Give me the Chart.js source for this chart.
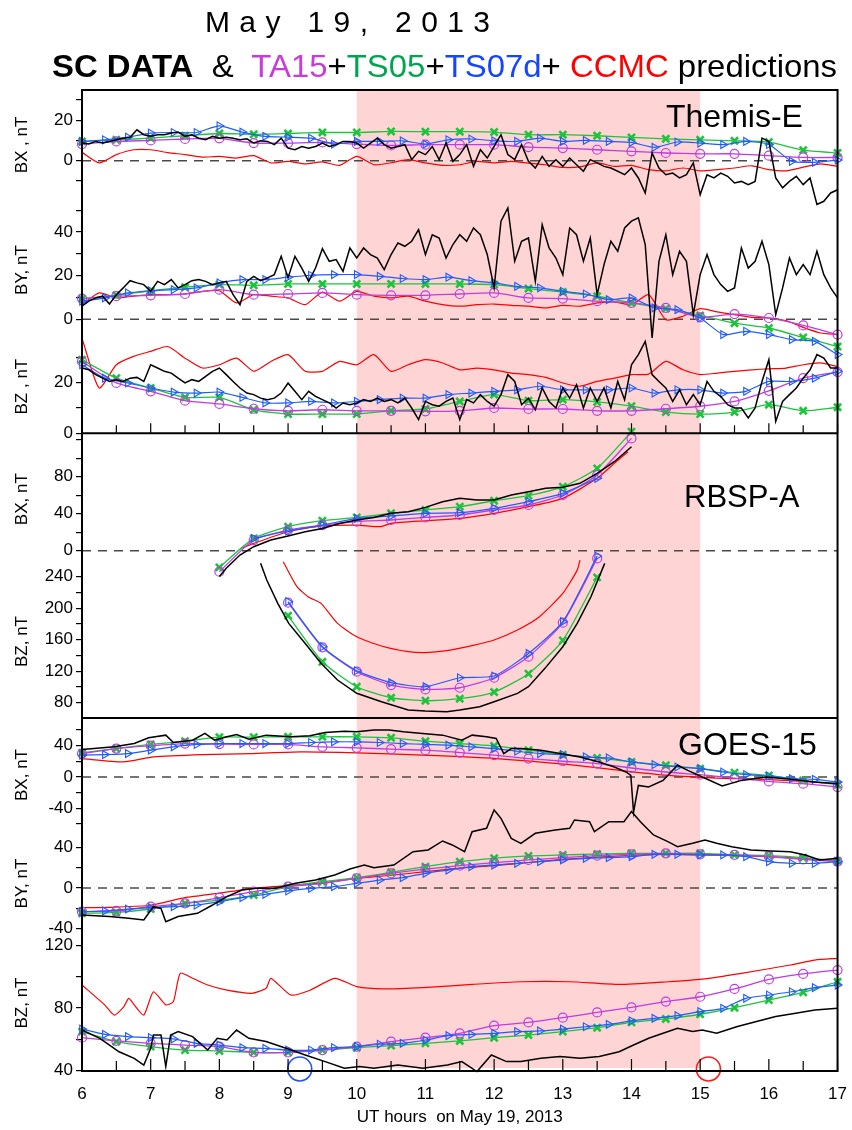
<!DOCTYPE html>
<html>
<head>
<meta charset="utf-8">
<title>May 19, 2013 - SC data and model predictions</title>
<script src="https://cdn.jsdelivr.net/npm/chart.js@4.4.1/dist/chart.umd.min.js"></script>
<style>
  body { margin: 0; background: #fff; }
  #wrap { position: relative; width: 852px; height: 1130px; font-family: "Liberation Sans", Arial, sans-serif; color: #000; }
  #wrap canvas { position: absolute; left: 0; top: 0; }
  .t { position: absolute; white-space: nowrap; line-height: 1; transform-origin: 0 0; }
  #date { left: 205px; top: 7px; font-size: 30px; }
  #head { left: 52px; top: 50px; font-size: 32px; }
  .panel { font-size: 32px; }
</style>
</head>
<body>
<div id="wrap">
  <canvas id="chart" width="852" height="1130"></canvas>
  <div class="t" id="date">May 19, 2013</div>
  <div class="t" id="head"><b>SC DATA</b>&nbsp; &amp;&nbsp; <span style="color:#c83cd8">TA15</span>+<span style="color:#00a550">TS05</span>+<span style="color:#1545ff">TS07d</span>+ <span style="color:#ff0000">CCMC</span> predictions</div>
  <div class="t panel" style="left:666px; top:100px;">Themis-E</div>
  <div class="t panel" style="left:684px; top:481px; font-size:31px;">RBSP-A</div>
  <div class="t panel" style="left:678px; top:728px;">GOES-15</div>
</div>
<script>
// ---- time grids (UT hours) ----
const hourTicks = [6, 7, 8, 9, 10, 11, 12, 13, 14, 15, 16, 17];
const halfHours = [6, 6.5, 7, 7.5, 8, 8.5, 9, 9.5, 10, 10.5, 11, 11.5, 12, 12.5, 13, 13.5, 14, 14.5, 15, 15.5, 16, 16.5, 17];
const thirdHours = [6, 6.333, 6.667, 7, 7.333, 7.667, 8, 8.333, 8.667, 9, 9.333, 9.667, 10, 10.333, 10.667, 11, 11.333, 11.667,
  12, 12.333, 12.667, 13, 13.333, 13.667, 14, 14.333, 14.667, 15, 15.333, 15.667, 16, 16.333, 16.667, 17];
const stormSpan = [10, 15];
const xRange = [6, 17];

// sampling grid for the high resolution records
function grid(start, step, count) {
  const out = [];
  for (let i = 0; i < count; i++) out.push(+(start + i * step).toFixed(3));
  return out;
}
const tenthHours = grid(6, 0.1, 111);
const quarterHours = grid(6, 0.25, 45);

// ---- Themis-E ----
const thBxData = [8.7, 8.2, 9.5, 8.7, 9.5, 10.3, 11.1, 11.5, 15.2, 12.8,
  12.0, 12.8, 12.8, 13.6, 14.1, 12.0, 12.8, 11.1, 10.3, 12.0,
  11.1, 11.5, 11.1, 10.3, 10.8, 8.7, 9.8, 9.5, 7.9, 11.1,
  6.2, 5.4, 7.0, 6.2, 7.0, 8.7, 7.0, 7.9, 9.5, 9.5,
  8.7, 6.2, 8.7, 11.1, 7.9, 6.2, 7.0, 7.9, 0.5, 4.6,
  3.0, 7.0, 0.5, 8.7, -0.3, 3.0, 7.9, -2.8, 5.4, 1.3,
  7.0, 12.8, 3.0, 0.5, 7.9, -0.3, -3.6, 2.1, -2.8, 0.5,
  -2.8, 1.3, -2.0, -5.2, 0.5, -1.1, -2.8, -3.6, -5.2, -6.9,
  -3.6, -8.5, -15.9, 3.8, -3.6, -6.9, -6.1, -8.5, -6.9, -1.1,
  -16.7, -6.9, -8.5, -6.1, -7.7, -11.0, -10.2, -11.8, -10.2, 11.1,
  9.5, -8.5, -13.4, -10.2, -7.7, -11.8, -8.5, -21.6, -20.0, -15.9,
  -14.3];
const thByData = [6.0, 8.3, 9.8, 10.6, 7.0, 11.3, 14.4, 17.7, 16.7, 15.9,
  12.8, 17.4, 15.9, 18.2, 14.4, 15.9, 17.7, 18.2, 17.4, 15.9,
  16.7, 17.4, 11.3, 6.7, 17.4, 19.7, 17.7, 19.0, 20.5, 28.9,
  19.0, 28.9, 23.5, 17.4, 23.5, 32.4, 26.6, 27.4, 22.0, 32.7,
  28.1, 32.7, 29.7, 28.1, 22.8, 29.7, 35.0, 33.5, 35.8, 41.1,
  29.7, 38.8, 37.3, 28.1, 34.3, 38.8, 35.8, 41.9, 38.8, 29.7,
  14.4, 45.0, 51.1, 26.6, 35.8, 37.3, 17.4, 43.4, 32.7, 28.1,
  20.5, 41.9, 38.8, 26.6, 37.3, 11.3, 25.1, 35.8, 31.2, 41.9,
  45.0, 46.5, 34.3, -8.6, 26.6, 38.8, 20.5, 31.2, 26.6, 2.1,
  20.5, 29.7, 20.5, 15.9, 12.8, 14.4, 32.7, 23.5, 26.6, 35.8,
  25.1, 2.1, 14.4, 28.1, 20.5, 25.1, 20.5, 31.2, 20.5, 14.4,
  9.8];
const thBzData = [25.8, 25.1, 23.2, 21.8, 20.5, 21.2, 20.5, 21.8, 22.1, 20.5,
  27.1, 25.8, 24.5, 23.8, 21.8, 19.9, 21.2, 20.5, 22.5, 24.5,
  25.8, 23.2, 20.5, 17.9, 15.9, 15.3, 13.9, 13.3, 13.9, 15.9,
  19.9, 16.6, 13.3, 16.6, 14.6, 13.3, 12.0, 10.0, 12.0, 11.3,
  12.0, 13.3, 12.6, 13.9, 12.6, 13.3, 12.0, 13.9, 10.0, 5.4,
  12.6, 11.3, 10.7, 12.6, 13.9, 5.4, 13.3, 12.0, 15.3, 12.6,
  10.7, 15.3, 23.2, 20.5, 11.3, 13.9, 9.3, 17.9, 12.6, 10.0,
  17.9, 13.9, 19.2, 10.0, 17.9, 12.6, 17.9, 10.0, 20.5, 13.3,
  27.1, 31.1, 36.3, 23.2, 20.5, 17.9, 12.6, 17.2, 11.3, 15.3,
  11.3, 20.5, 16.6, 14.5, 11.3, 10.0, 10.0, 6.1, 10.0, 20.5,
  29.1, 4.7, 12.6, 15.3, 17.9, 21.8, 25.1, 31.1, 29.7, 25.8,
  25.8];

const thBxCcmc = [4.1, -1.1, 3.0, 5.4, 5.4, 4.0, 3.0, 1.8, 2.1, 1.3, 2.5, -1.1, -0.3, -1.6, -0.6, -2.3,
  2.1, -2.0, -1.0, 0.5, -1.1, -2.3, -2.0, -0.3, -1.1, -0.3, -1.2, -2.0, -3.3, -3.0, -1.1, -2.8,
  -2.3, -4.4, -5.0, -3.6, -5.0, -4.4, -3.6, -2.5, -4.4, -5.0, -3.2, -1.6, -2.8];
const thByCcmc = [6.7, 12.1, 9.8, 10.6, 11.3, 11.3, 11.6, 12.8, 13.1, 7.5, 11.3, 10.6, 9.8, 6.7, 12.5, 8.3,
  12.8, 10.6, 9.8, 10.6, 8.3, 6.7, 6.0, 6.7, 7.0, 6.4, 6.0, 5.2, 6.4, 6.0, 7.5, 8.0,
  6.7, 11.3, -0.2, 1.4, 4.9, 3.4, 2.1, 0.9, 0.6, -0.6, -3.7, -6.3, -7.0];
const thBzCcmc = [37.6, 17.9, 27.1, 30.4, 32.4, 34.3, 29.7, 25.8, 27.1, 29.7, 24.5, 28.4, 31.1, 24.5, 24.5, 28.4,
  27.1, 31.1, 24.5, 27.1, 29.1, 27.8, 25.1, 25.8, 25.1, 23.8, 23.2, 22.1, 19.9, 18.6, 20.5, 21.8,
  23.2, 23.4, 28.4, 25.1, 23.2, 23.8, 24.5, 25.1, 25.5, 25.8, 27.1, 27.8, 26.4];

const thBxTa15 = [8.2, 9.5, 10.0, 10.7, 11.0, 8.7, 8.7, 9.0, 8.2, 7.5, 7.9, 7.9, 7.9, 6.7, 6.2, 5.4, 4.6, 3.8, 3.4, 3.4, 2.5, 1.6, 1.6];
const thBxTs05 = [9.5, 10.3, 11.1, 12.3, 13.4, 13.0, 13.4, 13.9, 13.9, 14.4, 14.3, 14.3, 14.1, 12.8, 12.8, 12.3, 11.5, 10.8, 10.3, 9.8, 9.2, 5.2, 3.8];
const thBxTs07 = [9.5, 10.3, 11.6, 13.6, 13.9, 13.9, 17.2, 14.1, 12.0, 11.6, 11.1, 8.2, 9.5, 9.5, 9.8, 8.2, 10.3,
  10.7, 9.8, 9.5, 11.1, 9.5, 10.0, 9.5, 9.0, 6.6, 9.2, 8.7, 7.9, 9.5, 8.0, -0.3, -0.8, 0.3];
const thByTa15 = [9.5, 10.6, 11.0, 11.6, 13.6, 11.3, 11.6, 12.1, 11.3, 11.0, 11.0, 11.6, 12.1, 9.8, 9.5, 8.3, 7.5, 5.2, 0.9, 2.4, 0.6, -2.8, -7.0];
const thByTs05 = [9.5, 11.0, 13.1, 14.7, 15.9, 15.6, 16.2, 16.2, 16.2, 16.2, 16.2, 16.2, 15.9, 14.1, 12.5, 10.6, 7.5, 4.9, 1.8, -1.8, -4.0, -8.3, -12.5];
const thByTs07 = [8.3, 9.8, 12.1, 13.1, 13.6, 14.4, 16.7, 18.2, 18.2, 19.3, 20.2, 20.5, 20.5, 19.7, 18.7, 18.2, 19.3,
  17.7, 16.7, 15.1, 14.4, 12.8, 11.6, 9.0, 9.8, 5.2, 4.4, 0.6, -7.0, -5.5, -7.0, -9.3, -10.1, -16.2];
const thBzTa15 = [28.4, 19.9, 16.6, 12.9, 11.6, 9.7, 8.9, 9.3, 8.9, 8.9, 8.7, 8.9, 10.0, 9.6, 9.6, 8.9, 8.9, 9.7, 10.7, 12.6, 16.8, 21.8, 24.2];
const thBzTs05 = [29.1, 21.8, 17.9, 14.2, 14.2, 9.3, 7.6, 7.6, 7.6, 8.9, 9.6, 12.6, 15.3, 12.9, 13.3, 12.4, 10.7, 8.4, 7.6, 8.4, 11.3, 8.9, 10.3];
const thBzTs07 = [27.1, 21.8, 19.9, 17.9, 16.3, 15.9, 16.3, 14.2, 12.0, 12.0, 12.6, 12.0, 12.6, 13.3, 13.9, 13.9, 15.3,
  15.9, 16.6, 17.2, 18.6, 17.2, 17.2, 17.2, 17.9, 15.9, 17.2, 17.2, 15.9, 16.6, 20.5, 20.5, 21.8, 24.5];

// ---- RBSP-A ----
const rbBxHours = [8, 8.5, 9, 9.5, 10, 10.5, 11, 11.5, 12, 12.5, 13, 13.5, 14];
const rbBx07Hours = [8.5, 9, 9.5, 10, 10.5, 11, 11.5, 12, 12.5, 13, 13.5];
const rbBzHours = [9, 9.5, 10, 10.5, 11, 11.5, 12, 12.5, 13, 13.5];
const rbBxData = [[8.0, -28], [8.1, -19], [8.3, -4.7], [8.5, 4.3], [8.75, 11.5], [9, 15.9], [9.25, 20.5], [9.5, 24.1],
  [9.75, 29.5], [10, 33.2], [10.25, 36], [10.5, 40.4], [10.75, 42.2], [11, 46.8], [11.25, 53], [11.5, 56.6],
  [11.75, 54.8], [12, 54.8], [12.25, 60.2], [12.5, 63.8], [12.75, 67.4], [13, 68.5], [13.25, 72.8], [13.5, 83.6],
  [13.75, 96.2], [14, 112.4]];
const rbBxCcmc = [[8.3, 2], [8.5, 7.9], [9, 20.5], [9.5, 26.7], [10, 27.7], [10.35, 26], [10.5, 29.5], [11, 32.4],
  [11.5, 35], [12, 40.4], [12.5, 47.6], [13, 56.6], [13.5, 78.2], [13.75, 94.4], [13.95, 107]];
const rbBxTa15 = [-22.7, 11.5, 22.3, 27.7, 31.4, 33.2, 36.0, 38.6, 44.0, 49.4, 60.2, 81.8, 121.4];
const rbBxTs05 = [-18, 13.3, 25.9, 32.4, 36.0, 40.4, 44.0, 47.6, 54.0, 59.5, 69.2, 89.0, 128.6];
const rbBxTs07 = [13.3, 21.3, 27.7, 35.0, 37.5, 40.4, 41.1, 45.8, 53.0, 62.0, 78.2];
const rbBzData = [[8.6, 257], [8.69, 235.8], [8.85, 206.1], [9.01, 180.7], [9.25, 155.3], [9.48, 130], [9.72, 108.8],
  [10, 91.9], [10.36, 81.3], [10.75, 70.7], [11, 69.4], [11.31, 68.6], [11.5, 70.7], [11.79, 74.9], [12, 81.3],
  [12.34, 91.9], [12.5, 100.3], [12.74, 123.6], [13, 151.1], [13.21, 180.7], [13.41, 214.6], [13.61, 257]];
const rbBzCcmc = [[8.93, 259], [9.13, 227.4], [9.29, 214.7], [9.48, 206.2], [9.72, 180.8], [10, 163.8], [10.36, 152],
  [10.75, 144.8], [11, 143.6], [11.31, 146.1], [11.71, 153.2], [12, 159.6], [12.34, 172.3], [12.66, 189.2],
  [13, 218.8], [13.21, 248.4], [13.25, 261.1]];
const rbBzTa15 = [207, 150.3, 119.4, 102.4, 96.9, 99, 111.7, 138.4, 181.6, 263.3];
const rbBzTs05 = [190.5, 132, 100.3, 86.3, 82.5, 85.1, 93.5, 116.8, 159.2, 239.2];
const rbBzTs07 = [208.3, 151.1, 120.6, 105.4, 100.3, 111.7, 113.9, 142.6, 182.9, 266.2];

// ---- GOES-15 ----
const goBxData = [[6, 35], [6.47, 38.5], [6.76, 42.7], [6.97, 50], [7.22, 53.4], [7.33, 44], [7.61, 47], [7.79, 55.6],
  [7.93, 47], [8.11, 51.3], [8.25, 54.3], [8.43, 48.3], [8.68, 53.4], [9.04, 51.3], [9.32, 52.6], [9.54, 56.8],
  [9.82, 58.5], [10, 57.7], [10.25, 59.8], [10.47, 59.8], [10.68, 57.7], [10.96, 55.6], [11.25, 53.4], [11.53, 47],
  [11.68, 53.4], [11.89, 51.3], [12.03, 49.1], [12.14, 29.9], [12.25, 36.3], [12.39, 36.3], [12.68, 34.2],
  [12.96, 29.9], [13.25, 25.6], [13.53, 19.2], [13.75, 12.8], [13.92, 6.4], [13.99, 2.1], [14.03, -44.9],
  [14.1, -10.7], [14.25, -12.8], [14.46, -4.3], [14.67, 15], [14.82, 8.5], [15.03, 0], [15.32, -11.5],
  [15.6, -4.3], [15.96, 0], [16.31, -3], [16.67, -6.4], [17, -8.5]];
const goByData = [[6, -26.5], [6.4, -28], [6.68, -29.7], [6.9, -31.4], [7.04, -18.3], [7.15, -20], [7.22, -33],
  [7.4, -28], [7.68, -24.8], [7.9, -16.7], [8.11, -8.5], [8.33, -2], [8.54, -0.3], [8.82, -0.3], [9.11, 4.6],
  [9.4, 7.8], [9.68, 12.7], [9.9, 18.6], [10.11, 22.5], [10.25, 19.9], [10.54, 22.5], [10.82, 35.6], [11.04, 37.3],
  [11.25, 46.1], [11.39, 42.2], [11.57, 35.6], [11.68, 55.2], [11.89, 58.5], [12, 76.5], [12.1, 68.3],
  [12.25, 48.7], [12.39, 43.8], [12.6, 53.6], [12.89, 56.9], [13.1, 58.5], [13.17, 66.7], [13.39, 65],
  [13.46, 55.2], [13.67, 65], [13.89, 65], [14, 75], [14.13, 65], [14.32, 52], [14.53, 45.4], [14.67, 40.5],
  [14.89, 43.8], [15.07, 47], [15.24, 43.8], [15.46, 40.5], [15.74, 37.3], [16.03, 36.3], [16.31, 35.6],
  [16.53, 32.4], [16.74, 27.5], [17, 29.1]];
const goBzData = [[6, 65.9], [6.26, 60.6], [6.54, 52], [6.76, 47.8], [6.9, 43.5], [7, 54.2], [7.04, 62.7], [7.15, 62.7],
  [7.22, 42.5], [7.29, 62.7], [7.4, 64.9], [7.61, 61.7], [7.83, 53.1], [7.97, 60.6], [8.11, 59.5], [8.25, 65.9],
  [8.43, 60.6], [8.68, 58.5], [8.97, 54.2], [9.25, 49.9], [9.54, 45.7], [9.82, 41.4], [10.04, 42.5], [10.25, 41.4],
  [10.6, 43.5], [10.96, 41.4], [11.32, 43.5], [11.53, 45.7], [11.75, 39.3], [11.96, 49.9], [12.18, 45.7],
  [12.39, 45.7], [12.68, 47.8], [12.96, 48.9], [13.25, 47.8], [13.53, 48.9], [13.82, 52], [14.03, 56.3],
  [14.25, 60.6], [14.46, 63.8], [14.67, 67], [14.89, 64.9], [15.03, 65.9], [15.24, 63.8], [15.53, 68],
  [15.82, 71.3], [16.1, 74.5], [16.39, 76.6], [16.67, 78.7], [17, 79.8]];

const goBxCcmc = [[6, 23.5], [6.6, 19.2], [7.04, 25.6], [7.75, 28.6], [8.47, 29.9], [9.18, 32], [10, 30.8], [10.96, 27.8],
  [12.03, 23.5], [13.1, 15.8], [13.82, 8.5], [14.53, 2.1], [15.24, -1.3], [15.96, -3], [17, -8.5]];
const goByCcmc = [-19.3, -18.7, -16.9, -9.5, -5.0, -0.3, 2.5, 5.0, 9.5, 12.5, 16.0, 19.5, 22.0, 25.0, 28.0, 30.2,
  32.0, 33.0, 32.5, 31.7, 30.7, 29.0, 26.5];
const goBzCcmc = [[6, 94.7], [6.33, 82], [6.47, 75.5], [6.61, 80.9], [6.68, 86.2], [6.76, 82], [6.9, 75.5], [7.04, 90.4],
  [7.22, 82], [7.33, 84], [7.43, 102.2], [7.61, 99], [7.83, 94.7], [8.11, 91.4], [8.47, 89.4], [8.68, 92.6],
  [8.75, 99], [9.04, 88.3], [9.32, 91.4], [9.68, 99], [10, 93.7], [10.39, 92.2], [10.96, 93], [11.68, 95.1],
  [12.39, 96.8], [13.1, 96.8], [13.82, 95.1], [14.53, 96.8], [15.03, 98.5], [15.6, 102.2], [16.31, 107.5],
  [16.67, 110.7], [17, 111.8]];

const goBxTa15 = [29.9, 36.3, 40.0, 42.7, 42.0, 41.5, 41.5, 38.5, 37.2, 35.5, 34.2, 31.2, 27.8, 23.5, 20.1, 17.1, 11.5, 6.4, 3.0, -1.3, -5.6, -8.5, -12.8];
const goBxTs05 = [30.8, 36.3, 41.5, 45.7, 50.9, 50.9, 51.3, 51.3, 51.3, 50.0, 45.7, 42.7, 39.7, 34.2, 28.6, 24.4, 19.2, 15.0, 10.7, 5.6, 2.1, -4.3, -9.8];
const goBxTs07 = [27.8, 28.6, 29.9, 34.2, 38.5, 41.5, 42.7, 42.7, 42.7, 42.7, 44.0, 44.9, 44.9, 44.0, 42.7, 41.5, 40.6,
  38.5, 36.3, 32.9, 29.9, 28.6, 25.6, 24.4, 19.2, 15.8, 12.8, 10.7, 6.4, 3.0, 1.3, -2.1, -3.0, -6.4];
const goByTa15 = [-23.2, -22.5, -18.3, -15.0, -9.5, -3.6, 1.3, 4.6, 9.5, 14.4, 18.6, 21.9, 24.8, 27.5, 29.7, 31.7, 33.0, 34.0, 33.0, 32.4, 30.7, 28.1, 25.8];
const goByTs05 = [-24.8, -23.9, -20.6, -15.0, -11.8, -6.9, 1.3, 6.2, 10.1, 15.4, 20.9, 25.8, 29.1, 31.4, 32.4, 33.3, 34.0, 34.0, 34.0, 32.4, 31.7, 29.7, 26.5];
const goByTs07 = [-23.2, -22.5, -20.6, -19.3, -18.3, -16.7, -13.4, -9.5, -6.2, -2.9, -0.3, 1.3, 4.6, 7.8, 10.1, 14.4, 17.6,
  20.9, 22.5, 24.2, 25.8, 27.5, 29.1, 29.7, 30.7, 33.0, 33.0, 32.4, 32.4, 30.7, 25.8, 24.2, 24.2, 25.8];
const goBzTa15 = [61.0, 58.9, 57.4, 56.3, 55.3, 51.6, 51.6, 53.1, 55.3, 58.5, 61.0, 63.8, 68.7, 70.8, 73.8, 77.2, 80.4, 84.1, 87.2, 92.2, 98.3, 101.8, 104.3];
const goBzTs05 = [64.9, 58.5, 55.3, 53.1, 52.5, 51.6, 51.6, 53.1, 54.6, 55.9, 57.4, 58.9, 61.0, 62.7, 64.9, 67.4, 70.8, 73.0, 76.0, 80.2, 85.1, 90.0, 96.8];
const goBzTs07 = [66.5, 63.1, 61.7, 61.0, 60.2, 57.4, 56.3, 54.6, 54.2, 53.1, 53.1, 54.6, 55.3, 56.8, 57.4, 59.5, 62.3,
  63.1, 63.8, 64.9, 65.3, 66.5, 68.0, 69.5, 71.7, 73.4, 75.1, 77.7, 79.8, 86.2, 88.3, 90.4, 93.0, 94.7];

// circled spots at the bottom of the GOES panel [hour, nT]
const blueRing = [9.17, 41];
const redRing = [15.12, 41];

// ---- tick labels of each panel axis (labelled / unlabelled) ----
const thBxTicks = [20, 0], thBxMinor = [30, 10, -10];
const thByTicks = [40, 20, 0], thByMinor = [50, 30, 10];
const thBzTicks = [20, 0], thBzMinor = [30, 10];
const rbBxTicks = [80, 40, 0], rbBxMinor = [120, 100, 60, 20];
const rbBzTicks = [240, 200, 160, 120, 80], rbBzMinor = [220, 180, 140, 100];
const goBxTicks = [40, 0, -40], goBxMinor = [60, 20, -20, -60];
const goByTicks = [40, 0, -40], goByMinor = [20, -20];
const goBzTicks = [120, 80, 40], goBzMinor = [100, 60];

// ---- colours ----
const cData = '#000000';
const cCcmc = '#ff0000';
const cTa15 = '#c03ce0';
const cTs05 = '#1cc43c';
const cTs07 = '#1f5cff';
const cZero = '#4a4a4a';
const cStorm = '#ffd4d4';

Chart.defaults.font.family = '"Liberation Sans", Arial, sans-serif';
Chart.defaults.color = '#000';

function xy(times, values) { return values.map((v, i) => ({x: times[i], y: v})); }
function pairs(list) { return list.map(p => ({x: p[0], y: p[1]})); }

// lines may leave their own panel band, so no per-axis clipping
function dataLine(data, axis) {
  return {data, yAxisID: axis, clip: false, borderColor: cData, borderWidth: 1.5, pointRadius: 0, tension: 0};
}
function ccmcLine(data, axis) {
  return {data, yAxisID: axis, clip: false, borderColor: cCcmc, borderWidth: 1.2, pointRadius: 0, tension: 0.2};
}
function ta15Line(data, axis) {
  return {data, yAxisID: axis, clip: false, borderColor: cTa15, borderWidth: 1.3, tension: 0.2,
    pointStyle: 'circle', pointRadius: 4.5, pointBorderWidth: 1.2, pointBorderColor: cTa15, pointBackgroundColor: 'rgba(0,0,0,0)'};
}
function ts05Line(data, axis) {
  return {data, yAxisID: axis, clip: false, borderColor: cTs05, borderWidth: 1.3, tension: 0.2,
    pointStyle: 'crossRot', pointRadius: 5, pointBorderWidth: 2.6, pointBorderColor: cTs05, pointBackgroundColor: cTs05};
}
function ts07Line(data, axis) {
  return {data, yAxisID: axis, clip: false, borderColor: cTs07, borderWidth: 1.2, tension: 0.2,
    pointStyle: 'triangle', pointRotation: 90, pointRadius: 4.5, pointBorderWidth: 1.1,
    pointBorderColor: cTs07, pointBackgroundColor: 'rgba(0,0,0,0)'};
}
function zeroLine(axis) {
  return {data: xRange.map(t => ({x: t, y: 0})), yAxisID: axis, borderColor: cZero, borderWidth: 1.5,
    borderDash: [9, 7], pointRadius: 0};
}
function ring(point, color) {
  return {data: [{x: point[0], y: point[1]}], yAxisID: 'goBz', showLine: false, clip: false,
    pointStyle: 'circle', pointRadius: 12, pointBorderWidth: 1.6, pointBorderColor: color, pointBackgroundColor: 'rgba(0,0,0,0)'};
}

// one stacked y axis per panel; band = height share, order = top to bottom (higher first)
function panelAxis(title, min, max, labelled, minor, band, order) {
  const all = labelled.concat(minor).sort((a, b) => a - b);
  return {
    type: 'linear', position: 'left', stack: 'panels', stackWeight: band, weight: order,
    min, max,
    afterFit: s => { s.width = 82; },
    afterBuildTicks: s => { s.ticks = all.map(v => ({value: v})); },
    ticks: {autoSkip: false, padding: 3, font: {size: 17}, callback: v => labelled.includes(v) ? String(v) : ''},
    grid: {drawOnChartArea: false, drawTicks: true, tickLength: 6, color: '#000', lineWidth: 1.2},
    border: {display: true, color: '#000', width: 2},
    title: {display: true, text: title, font: {size: 17}, padding: {top: 12, bottom: 0}}
  };
}

// storm interval shading, panel frame, separators and inward hour ticks
const panelFrame = {
  id: 'panelFrame',
  beforeDatasetsDraw(chart) {
    const {ctx, chartArea: a, scales: {x}} = chart;
    const x0 = x.getPixelForValue(stormSpan[0]);
    const x1 = x.getPixelForValue(stormSpan[1]);
    ctx.save();
    ctx.fillStyle = cStorm;
    ctx.fillRect(x0, a.top, x1 - x0, a.bottom - a.top - 3);
    ctx.restore();
  },
  afterDatasetsDraw(chart) {
    const {ctx, chartArea: a, scales} = chart;
    const x = scales.x;
    const sep1 = scales.rbBx.top;
    const sep2 = scales.goBx.top;
    ctx.save();
    ctx.strokeStyle = '#000';
    ctx.lineWidth = 2;
    ctx.strokeRect(a.left, a.top, a.right - a.left, a.bottom - a.top);
    ctx.beginPath();
    ctx.moveTo(a.left, sep1); ctx.lineTo(a.right, sep1);
    ctx.moveTo(a.left, sep2); ctx.lineTo(a.right, sep2);
    ctx.stroke();
    ctx.lineWidth = 1.2;
    ctx.beginPath();
    halfHours.forEach(t => {
      const px = x.getPixelForValue(t);
      const up = Number.isInteger(t) ? 10 : 8;
      ctx.moveTo(px, sep1); ctx.lineTo(px, sep1 - up);
      ctx.moveTo(px, a.bottom); ctx.lineTo(px, a.bottom - up - 2);
    });
    ctx.stroke();
    ctx.restore();
  }
};

const datasets = [
  // Themis-E
  dataLine(xy(tenthHours, thBxData), 'thBx'),
  dataLine(xy(tenthHours, thByData), 'thBy'),
  dataLine(xy(tenthHours, thBzData), 'thBz'),
  ts07Line(xy(thirdHours, thBxTs07), 'thBx'),
  ts07Line(xy(thirdHours, thByTs07), 'thBy'),
  ts07Line(xy(thirdHours, thBzTs07), 'thBz'),
  ta15Line(xy(halfHours, thBxTa15), 'thBx'),
  ta15Line(xy(halfHours, thByTa15), 'thBy'),
  ta15Line(xy(halfHours, thBzTa15), 'thBz'),
  ts05Line(xy(halfHours, thBxTs05), 'thBx'),
  ts05Line(xy(halfHours, thByTs05), 'thBy'),
  ts05Line(xy(halfHours, thBzTs05), 'thBz'),
  ccmcLine(xy(quarterHours, thBxCcmc), 'thBx'),
  ccmcLine(xy(quarterHours, thByCcmc), 'thBy'),
  ccmcLine(xy(quarterHours, thBzCcmc), 'thBz'),
  // RBSP-A
  dataLine(pairs(rbBxData), 'rbBx'),
  dataLine(pairs(rbBzData), 'rbBz'),
  ts07Line(xy(rbBx07Hours, rbBxTs07), 'rbBx'),
  ts07Line(xy(rbBzHours, rbBzTs07), 'rbBz'),
  ta15Line(xy(rbBxHours, rbBxTa15), 'rbBx'),
  ta15Line(xy(rbBzHours, rbBzTa15), 'rbBz'),
  ts05Line(xy(rbBxHours, rbBxTs05), 'rbBx'),
  ts05Line(xy(rbBzHours, rbBzTs05), 'rbBz'),
  ccmcLine(pairs(rbBxCcmc), 'rbBx'),
  ccmcLine(pairs(rbBzCcmc), 'rbBz'),
  // GOES-15
  dataLine(pairs(goBxData), 'goBx'),
  dataLine(pairs(goByData), 'goBy'),
  dataLine(pairs(goBzData), 'goBz'),
  ts07Line(xy(thirdHours, goBxTs07), 'goBx'),
  ts07Line(xy(thirdHours, goByTs07), 'goBy'),
  ts07Line(xy(thirdHours, goBzTs07), 'goBz'),
  ta15Line(xy(halfHours, goBxTa15), 'goBx'),
  ta15Line(xy(halfHours, goByTa15), 'goBy'),
  ta15Line(xy(halfHours, goBzTa15), 'goBz'),
  ts05Line(xy(halfHours, goBxTs05), 'goBx'),
  ts05Line(xy(halfHours, goByTs05), 'goBy'),
  ts05Line(xy(halfHours, goBzTs05), 'goBz'),
  ccmcLine(pairs(goBxCcmc), 'goBx'),
  ccmcLine(xy(halfHours, goByCcmc), 'goBy'),
  ccmcLine(pairs(goBzCcmc), 'goBz'),
  ring(blueRing, '#2050ff'),
  ring(redRing, '#ff1a1a'),
  // dashed zero levels
  zeroLine('thBx'), zeroLine('thBy'), zeroLine('rbBx'), zeroLine('goBx'), zeroLine('goBy')
];

new Chart(document.getElementById('chart'), {
  type: 'line',
  data: {datasets},
  options: {
    responsive: false,
    animation: false,
    events: [],
    layout: {padding: {top: 90, right: 14, left: 0, bottom: 0}},
    plugins: {legend: {display: false}, tooltip: {enabled: false}},
    scales: {
      x: {
        type: 'linear', min: xRange[0], max: xRange[1],
        afterFit: s => { s.height = 59; },
        afterBuildTicks: s => { s.ticks = hourTicks.map(v => ({value: v})); },
        ticks: {autoSkip: false, maxRotation: 0, padding: 5, font: {size: 17}},
        grid: {display: false},
        border: {display: true, color: '#000', width: 2},
        title: {display: true, text: 'UT hours  on May 19, 2013', font: {size: 17}, padding: {top: 0, bottom: 2}}
      },
      thBx: panelAxis('BX , nT', -19.36, 34.83, thBxTicks, thBxMinor, 110, 8),
      thBy: panelAxis('BY, nT', -9.5, 54.72, thByTicks, thByMinor, 140, 7),
      thBz: panelAxis('BZ , nT', 0, 36.88, thBzTicks, thBzMinor, 93.3, 6),
      rbBx: panelAxis('BX, nT', -15.46, 126.9, rbBxTicks, rbBxMinor, 131.7, 5),
      rbBz: panelAxis('BZ, nT', 60.57, 254.9, rbBzTicks, rbBzMinor, 153, 4),
      goBx: panelAxis('BX, nT', -70.13, 75.26, goBxTicks, goBxMinor, 114, 3),
      goBy: panelAxis('BY, nT', -46.08, 54.9, goByTicks, goByMinor, 103, 2),
      goBz: panelAxis('BZ, nT', 39.68, 126.72, goBzTicks, goBzMinor, 136, 1)
    }
  },
  plugins: [panelFrame]
});

// fit the two header lines to the span they cover in the figure
function fitWidth(el, width) {
  const w = el.getBoundingClientRect().width;
  el.style.transform = 'scaleX(' + (width / w).toFixed(4) + ')';
}
function fitSpacing(el, width) {
  const n = el.textContent.length;
  const w = el.getBoundingClientRect().width;
  el.style.letterSpacing = ((width - w) / (n - 1)).toFixed(2) + 'px';
}
fitSpacing(document.getElementById('date'), 285);
fitWidth(document.getElementById('head'), 785);
</script>
</body>
</html>
